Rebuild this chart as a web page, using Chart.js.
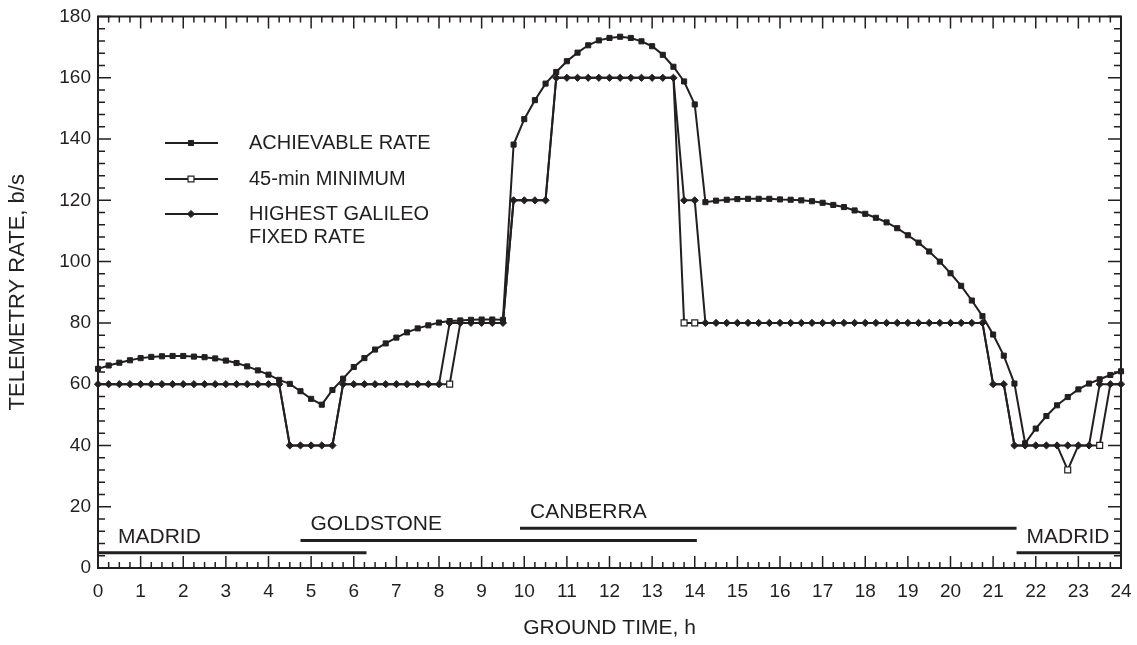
<!DOCTYPE html>
<html>
<head>
<meta charset="utf-8">
<style>
  html, body { margin: 0; padding: 0; background: #fff; }
  #wrap { width: 1137px; height: 645px; }
</style>
<script src="https://cdn.jsdelivr.net/npm/chart.js@4.4.1/dist/chart.umd.min.js"></script>
</head>
<body>
<div id="wrap"><canvas id="telemetryChart" width="1137" height="645"></canvas></div>
<script>
// ground time in hours, one sample every 15 min
const hours = [
  0, 0.25, 0.5, 0.75, 1, 1.25, 1.5, 1.75, 2, 2.25, 2.5, 2.75, 3, 3.25, 3.5, 3.75,
  4, 4.25, 4.5, 4.75, 5, 5.25, 5.5, 5.75, 6, 6.25, 6.5, 6.75, 7, 7.25, 7.5, 7.75,
  8, 8.25, 8.5, 8.75, 9, 9.25, 9.5, 9.75, 10, 10.25, 10.5, 10.75, 11, 11.25, 11.5, 11.75,
  12, 12.25, 12.5, 12.75, 13, 13.25, 13.5, 13.75, 14, 14.25, 14.5, 14.75, 15, 15.25, 15.5, 15.75,
  16, 16.25, 16.5, 16.75, 17, 17.25, 17.5, 17.75, 18, 18.25, 18.5, 18.75, 19, 19.25, 19.5, 19.75,
  20, 20.25, 20.5, 20.75, 21, 21.25, 21.5, 21.75, 22, 22.25, 22.5, 22.75, 23, 23.25, 23.5, 23.75, 24
];

// telemetry rates, b/s
const achievableRate = [
  65.0, 66.1, 67.0, 67.8, 68.5, 68.9, 69.1, 69.2, 69.2, 69.0, 68.8, 68.4, 67.7, 66.9, 65.8, 64.5,
  63.1, 61.4, 60.1, 57.7, 55.2, 53.3, 58.1, 61.8, 65.6, 68.5, 71.3, 73.3, 75.2, 76.9, 78.2, 79.2,
  80.1, 80.6, 80.8, 81.0, 81.1, 81.1, 81.0, 138.2, 146.5, 152.7, 158.1, 161.9, 165.4, 168.2, 170.6, 172.2,
  173.0, 173.4, 173.0, 171.9, 170.3, 167.5, 163.6, 158.8, 151.3, 119.4, 119.9, 120.2, 120.4, 120.5, 120.5, 120.5,
  120.3, 120.2, 120.0, 119.7, 119.2, 118.5, 117.8, 116.7, 115.6, 114.3, 112.8, 110.9, 108.6, 106.2, 103.3, 100.0,
  96.2, 92.1, 87.3, 82.2, 76.2, 69.3, 60.2, 40.7, 45.5, 49.6, 53.1, 55.8, 58.3, 60.2, 61.6, 63.0, 64.2
];

const minimum45 = [
  60, 60, 60, 60, 60, 60, 60, 60, 60, 60, 60, 60, 60, 60, 60, 60,
  60, 60, 40, 40, 40, 40, 40, 60, 60, 60, 60, 60, 60, 60, 60, 60,
  60, 60, 80, 80, 80, 80, 80, 120, 120, 120, 120, 160, 160, 160, 160, 160,
  160, 160, 160, 160, 160, 160, 160, 80, 80, 80, 80, 80, 80, 80, 80, 80,
  80, 80, 80, 80, 80, 80, 80, 80, 80, 80, 80, 80, 80, 80, 80, 80,
  80, 80, 80, 80, 60, 60, 40, 40, 40, 40, 40, 32, 40, 40, 40, 60, 60
];

const fixedRate = [
  60, 60, 60, 60, 60, 60, 60, 60, 60, 60, 60, 60, 60, 60, 60, 60,
  60, 60, 40, 40, 40, 40, 40, 60, 60, 60, 60, 60, 60, 60, 60, 60,
  60, 80, 80, 80, 80, 80, 80, 120, 120, 120, 120, 160, 160, 160, 160, 160,
  160, 160, 160, 160, 160, 160, 160, 120, 120, 80, 80, 80, 80, 80, 80, 80,
  80, 80, 80, 80, 80, 80, 80, 80, 80, 80, 80, 80, 80, 80, 80, 80,
  80, 80, 80, 80, 60, 60, 40, 40, 40, 40, 40, 40, 40, 40, 60, 60, 60
];

const seriesNames = ['ACHIEVABLE RATE', '45-min MINIMUM', ['HIGHEST GALILEO', 'FIXED RATE']];

// tracking station coverage
const stations = ['MADRID', 'GOLDSTONE', 'CANBERRA', 'MADRID'];
const stationStart = [0, 4.75, 9.9, 21.55];
const stationEnd = [6.3, 14.05, 21.55, 24];
const stationLevel = [5, 9, 13, 5];

const ink = '#231f20';
const fontFamily = '"Liberation Sans", Arial, Helvetica, sans-serif';

const pts = (ys) => hours.map((h, i) => ({ x: h, y: ys[i] }));

const datasets = [
  {
    label: seriesNames[0],
    data: pts(achievableRate),
    borderColor: ink, borderWidth: 2,
    pointStyle: 'rect', pointRadius: 3.6, pointBorderWidth: 1,
    pointBackgroundColor: ink, pointBorderColor: ink,
    order: 2, clip: false
  },
  {
    label: seriesNames[1],
    data: pts(minimum45),
    borderColor: ink, borderWidth: 2,
    pointStyle: 'rect', pointBorderWidth: 1.2,
    // only show the open squares where it departs from the fixed rate
    pointRadius: (c) => (minimum45[c.dataIndex] !== fixedRate[c.dataIndex] ? 4.2 : 0),
    pointBackgroundColor: '#fff', pointBorderColor: ink,
    order: 0, clip: false
  },
  {
    label: seriesNames[2].join(' '),
    data: pts(fixedRate),
    borderColor: ink, borderWidth: 2,
    pointStyle: 'rectRot', pointRadius: 3.6, pointBorderWidth: 1,
    pointBackgroundColor: ink, pointBorderColor: ink,
    order: 1, clip: false
  }
];

stations.forEach((name, i) => {
  datasets.push({
    label: name,
    data: [{ x: stationStart[i], y: stationLevel[i] }, { x: stationEnd[i], y: stationLevel[i] }],
    borderColor: ink, borderWidth: 3, pointRadius: 0,
    order: 3, clip: false
  });
});

// box with inward ticks on all four sides
const framePlugin = {
  id: 'frame',
  beforeDatasetsDraw(chart) {
    const { ctx, chartArea: a, scales: { x, y } } = chart;
    ctx.save();
    ctx.strokeStyle = ink;
    ctx.lineWidth = 1.5;
    ctx.beginPath();
    for (let q = 0; q <= 96; q++) {
      const px = x.getPixelForValue(q / 4);
      const len = q % 4 === 0 ? 12 : 6;
      ctx.moveTo(px, a.bottom); ctx.lineTo(px, a.bottom - len);
      ctx.moveTo(px, a.top); ctx.lineTo(px, a.top + len);
    }
    for (let v = 0; v <= 180; v += 4) {
      const py = y.getPixelForValue(v);
      const len = v % 20 === 0 ? 13 : 7;
      ctx.moveTo(a.left, py); ctx.lineTo(a.left + len, py);
      ctx.moveTo(a.right, py); ctx.lineTo(a.right - len, py);
    }
    ctx.stroke();
    ctx.lineWidth = 2;
    ctx.strokeRect(a.left, a.top, a.width, a.height);
    ctx.restore();
  }
};

// station names above their bars
const stationLabels = {
  id: 'stationLabels',
  afterDatasetsDraw(chart) {
    const { ctx, scales: { x, y } } = chart;
    ctx.save();
    ctx.fillStyle = ink;
    ctx.font = '21px ' + fontFamily;
    ctx.textAlign = 'left';
    ctx.textBaseline = 'alphabetic';
    stations.forEach((name, i) => {
      const inset = stationStart[i] === 0 ? 20 : 10;
      ctx.fillText(name, x.getPixelForValue(stationStart[i]) + inset, y.getPixelForValue(stationLevel[i]) - 10);
    });
    ctx.restore();
  }
};

// legend drawn inside the plot: line with marker in the middle
const innerLegend = {
  id: 'innerLegend',
  afterDraw(chart) {
    const ctx = chart.ctx;
    const rows = [143, 179, 214];
    ctx.save();
    ctx.font = '20px ' + fontFamily;
    ctx.textBaseline = 'middle';
    ctx.textAlign = 'left';
    seriesNames.forEach((name, i) => {
      const ds = chart.data.datasets[i];
      const yy = rows[i];
      ctx.strokeStyle = ink;
      ctx.lineWidth = 2;
      ctx.beginPath();
      ctx.moveTo(165, yy); ctx.lineTo(218, yy);
      ctx.stroke();
      ctx.fillStyle = ds.pointBackgroundColor;
      ctx.strokeStyle = ds.pointBorderColor;
      ctx.lineWidth = ds.pointBorderWidth;
      Chart.helpers.drawPoint(ctx, {
        pointStyle: ds.pointStyle, radius: i === 1 ? 4.2 : 3.6,
        rotation: 0, borderWidth: ds.pointBorderWidth
      }, 191, yy);
      ctx.fillStyle = ink;
      const lines = Array.isArray(name) ? name : [name];
      lines.forEach((t, k) => ctx.fillText(t, 249, yy + k * 23));
    });
    ctx.restore();
  }
};

new Chart(document.getElementById('telemetryChart'), {
  type: 'line',
  data: { datasets: datasets },
  options: {
    responsive: false,
    animation: false,
    events: [],
    layout: { padding: { top: 10, right: 16, left: 0, bottom: 0 } },
    plugins: { legend: { display: false }, tooltip: { enabled: false } },
    scales: {
      x: {
        type: 'linear', min: 0, max: 24,
        grid: { display: false, drawTicks: false },
        border: { display: false },
        ticks: {
          stepSize: 1, autoSkip: false, maxRotation: 0, padding: 14,
          color: ink, font: { family: fontFamily, size: 19, lineHeight: 1 }
        },
        title: {
          display: true, text: 'GROUND TIME, h', color: ink,
          font: { family: fontFamily, size: 21 }, padding: { top: 0, bottom: 4 }
        },
        afterFit: (s) => { s.height = 77; s.paddingLeft = 0; s.paddingRight = 0; }
      },
      y: {
        min: 0, max: 180,
        grid: { display: false, drawTicks: false },
        border: { display: false },
        ticks: {
          stepSize: 20, padding: 7,
          color: ink, font: { family: fontFamily, size: 19, lineHeight: 1 }
        },
        title: {
          display: true, text: 'TELEMETRY RATE, b/s', color: ink,
          font: { family: fontFamily, size: 22 }, padding: { top: 5, bottom: 0 }
        },
        afterFit: (s) => { s.width = 98; }
      }
    }
  },
  plugins: [framePlugin, stationLabels, innerLegend]
});
</script>
</body>
</html>
